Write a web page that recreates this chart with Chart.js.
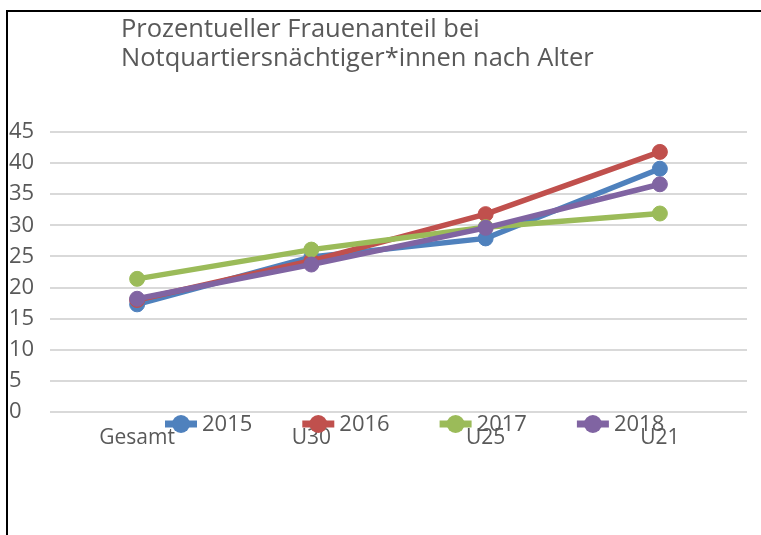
<!DOCTYPE html>
<html>
<head>
<meta charset="utf-8">
<script src="https://cdn.jsdelivr.net/npm/chart.js@4"></script>
<style>
  body { margin: 0; background: #fff; }
  #wrap { position: relative; width: 761px; height: 535px; overflow: hidden; }
  #frameTop { position: absolute; left: 6px; top: 10px; width: 755px; height: 2px; background: #000; }
  #frameLeft { position: absolute; left: 6px; top: 10px; width: 2px; height: 525px; background: #000; }
  canvas { position: absolute; left: 0; top: 0; }
</style>
</head>
<body>
<div id="wrap">
  <canvas id="chart" width="761" height="535"></canvas>
  <div id="frameTop"></div>
  <div id="frameLeft"></div>
</div>
<script>
const categories = ["Gesamt", "U30", "U25", "U21"];
const years = ["2015", "2016", "2017", "2018"];
const values2015 = [17.3, 24.9, 27.9, 39.1];
const values2016 = [18.0, 24.3, 31.8, 41.8];
const values2017 = [21.4, 26.1, 29.7, 31.9];
const values2018 = [18.2, 23.7, 29.6, 36.6];
const colors = ["#4f81bd", "#c0504d", "#9bbb59", "#8064a2"];
const titleLines = ["Prozentueller Frauenanteil bei", "Notquartiersnächtiger*innen nach Alter"];

const textColor = "#595959";
const fontFamily = "'Open Sans', sans-serif";

const series = [values2015, values2016, values2017, values2018];

// title + legend drawn by hand, legend overlaps the x labels like in the original
const overlay = {
  id: "overlay",
  afterDraw(chart) {
    const ctx = chart.ctx;
    ctx.save();
    ctx.fillStyle = textColor;
    ctx.font = "25.5px " + fontFamily;
    ctx.textBaseline = "alphabetic";
    ctx.textAlign = "left";
    ctx.fillText(titleLines[0], 121, 37);
    ctx.fillText(titleLines[1], 121, 66);

    ctx.font = "22px " + fontFamily;
    ctx.textBaseline = "middle";
    chart.data.datasets.forEach((ds, i) => {
      const x = 165 + i * 137.3;
      const y = 424;
      ctx.strokeStyle = ds.borderColor;
      ctx.lineWidth = 7;
      ctx.beginPath();
      ctx.moveTo(x, y);
      ctx.lineTo(x + 32, y);
      ctx.stroke();
      ctx.fillStyle = ds.borderColor;
      ctx.beginPath();
      ctx.arc(x + 16, y, 9, 0, Math.PI * 2);
      ctx.fill();
      ctx.fillStyle = textColor;
      ctx.fillText(ds.label, x + 37, y + 1);
    });
    ctx.restore();
  }
};

new Chart(document.getElementById("chart"), {
  type: "line",
  data: {
    labels: categories,
    datasets: years.map((y, i) => ({
      label: y,
      data: series[i],
      borderColor: colors[i],
      backgroundColor: colors[i],
      borderWidth: 5.5,
      pointRadius: 7.5,
      pointBorderWidth: 1,
      pointBackgroundColor: colors[i],
      tension: 0,
      order: 4 - i
    }))
  },
  options: {
    responsive: false,
    animation: false,
    layout: { padding: { left: 9, right: 14, top: 132, bottom: 63 } },
    plugins: {
      legend: { display: false },
      title: { display: false },
      tooltip: { enabled: false }
    },
    scales: {
      x: {
        offset: true,
        grid: { display: false, drawTicks: false },
        border: { display: false },
        ticks: {
          color: textColor,
          font: { family: fontFamily, size: 21 },
          padding: 13,
          maxRotation: 0
        },
        afterFit(scale) { scale.height = 60; }
      },
      y: {
        min: 0,
        max: 45,
        ticks: {
          stepSize: 5,
          color: textColor,
          crossAlign: "far",
          font: { family: fontFamily, size: 22 }
        },
        grid: { color: "#d9d9d9", lineWidth: 2, drawTicks: false },
        border: { display: false },
        afterFit(scale) { scale.width = 41; }
      }
    }
  },
  plugins: [overlay]
});
</script>
</body>
</html>
